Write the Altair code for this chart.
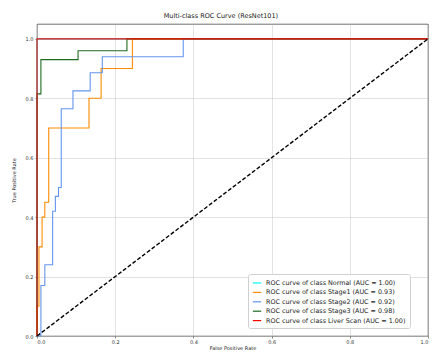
import altair as alt
import pandas as pd

classes = ["Normal", "Stage1", "Stage2", "Stage3", "Liver Scan"]
aucs = ["1.00", "0.93", "0.92", "0.98", "1.00"]
colors = ["#00FFFF", "#FF8C00", "#6495ED", "#1f6b1f", "#FF0000"]

normal_fpr = [0.0, 0.0, 1.0]
normal_tpr = [0.0, 1.0, 1.0]

stage1_fpr = [0.0, 0.0, 0.005, 0.005, 0.013, 0.013, 0.02, 0.02, 0.03, 0.03, 0.133, 0.133, 0.164, 0.164, 0.244, 0.244, 1.0]
stage1_tpr = [0.0, 0.10, 0.10, 0.30, 0.30, 0.40, 0.40, 0.45, 0.45, 0.70, 0.70, 0.80, 0.80, 0.90, 0.90, 1.0, 1.0]

stage2_fpr = [0.0, 0.01, 0.01, 0.02, 0.02, 0.04, 0.04, 0.047, 0.047, 0.055, 0.055, 0.062, 0.062, 0.092, 0.092, 0.136, 0.136, 0.167, 0.167, 0.374, 0.374, 1.0]
stage2_tpr = [0.0, 0.0, 0.17, 0.17, 0.24, 0.24, 0.42, 0.42, 0.47, 0.47, 0.50, 0.50, 0.765, 0.765, 0.825, 0.825, 0.886, 0.886, 0.94, 0.94, 1.0, 1.0]

stage3_fpr = [0.0, 0.0, 0.01, 0.01, 0.105, 0.105, 0.23, 0.23, 1.0]
stage3_tpr = [0.0, 0.815, 0.815, 0.93, 0.93, 0.96, 0.96, 1.0, 1.0]

liver_fpr = [0.0, 0.0, 1.0]
liver_tpr = [0.0, 1.0, 1.0]

diag_x = [0.0, 1.0]
diag_y = [0.0, 1.0]

series = [
    (normal_fpr, normal_tpr),
    (stage1_fpr, stage1_tpr),
    (stage2_fpr, stage2_tpr),
    (stage3_fpr, stage3_tpr),
    (liver_fpr, liver_tpr),
]

labels = [f"ROC curve of class {c} (AUC = {a})" for c, a in zip(classes, aucs)]

rows = []
for lab, (fx, ty) in zip(labels, series):
    for i, (a, b) in enumerate(zip(fx, ty)):
        rows.append({"series": lab, "fpr": a, "tpr": b, "idx": i})
df = pd.DataFrame(rows)
diag = pd.DataFrame({"fpr": diag_x, "tpr": diag_y})

xs = alt.Scale(domain=[0, 1], nice=False, zero=False)
ys = alt.Scale(domain=[0, 1.05], nice=False, zero=False)
color_scale = alt.Scale(domain=labels, range=colors)

xaxis = alt.Axis(values=[0, 0.2, 0.4, 0.6, 0.8, 1.0], format=".1f", title="False Positive Rate", labelPadding=1, titlePadding=1)
yaxis = alt.Axis(values=[0, 0.2, 0.4, 0.6, 0.8, 1.0], format=".1f", title="True Positive Rate", titlePadding=9)

legend = alt.Legend(
    title=None,
    orient="none",
    legendX=211,
    legendY=250,
    symbolType="stroke",
    symbolSize=70,
    symbolStrokeWidth=1.2,
    labelFontSize=6.4,
    labelLimit=400,
    rowPadding=0.4,
    padding=4,
    strokeColor="#d0d0d0",
    fillColor="white",
    cornerRadius=2,
    labelColor="#222",
)

layers = []
for k, lab in enumerate(labels):
    layers.append(
        alt.Chart(df)
        .transform_filter(alt.datum.series == lab)
        .mark_line(strokeWidth=1.1)
        .encode(
            x=alt.X("fpr:Q", scale=xs, axis=xaxis),
            y=alt.Y("tpr:Q", scale=ys, axis=yaxis),
            order="idx:Q",
            color=alt.Color("series:N", scale=color_scale, legend=legend),
        )
    )

diag_layer = alt.Chart(diag).mark_line(color="black", strokeWidth=1.4, strokeDash=[4, 2]).encode(
    x=alt.X("fpr:Q", scale=xs, axis=xaxis), y=alt.Y("tpr:Q", scale=ys, axis=yaxis)
)

chart = (
    alt.layer(*layers, diag_layer)
    .properties(
        width=391,
        height=312,
        title=alt.TitleParams("Multi-class ROC Curve (ResNet101)", fontSize=6.5, fontWeight="normal", color="#222", offset=5, font="DejaVu Sans", anchor="middle", frame="bounds"),
        autosize=alt.AutoSizeParams(type="none"),
        padding={"left": 37, "top": 24, "right": 4, "bottom": 16},
    )
    .configure_view(stroke="#333", strokeWidth=0.7)
    .configure_axis(
        labelFontSize=5,
        titleFontSize=5,
        titleFontWeight="normal",
        labelColor="#333",
        titleColor="#222",
        grid=True,
        gridColor="#b0b0b0",
        gridOpacity=0.6,
        gridWidth=0.6,
        tickSize=2,
        tickColor="#333",
        tickWidth=0.6,
        domain=False,
        labelPadding=2,
        labelFont="DejaVu Sans",
        titleFont="DejaVu Sans",
    )
    .configure_legend(labelFont="DejaVu Sans")
)

chart.save("out.html", embed_options={"renderer": "svg", "actions": False})
